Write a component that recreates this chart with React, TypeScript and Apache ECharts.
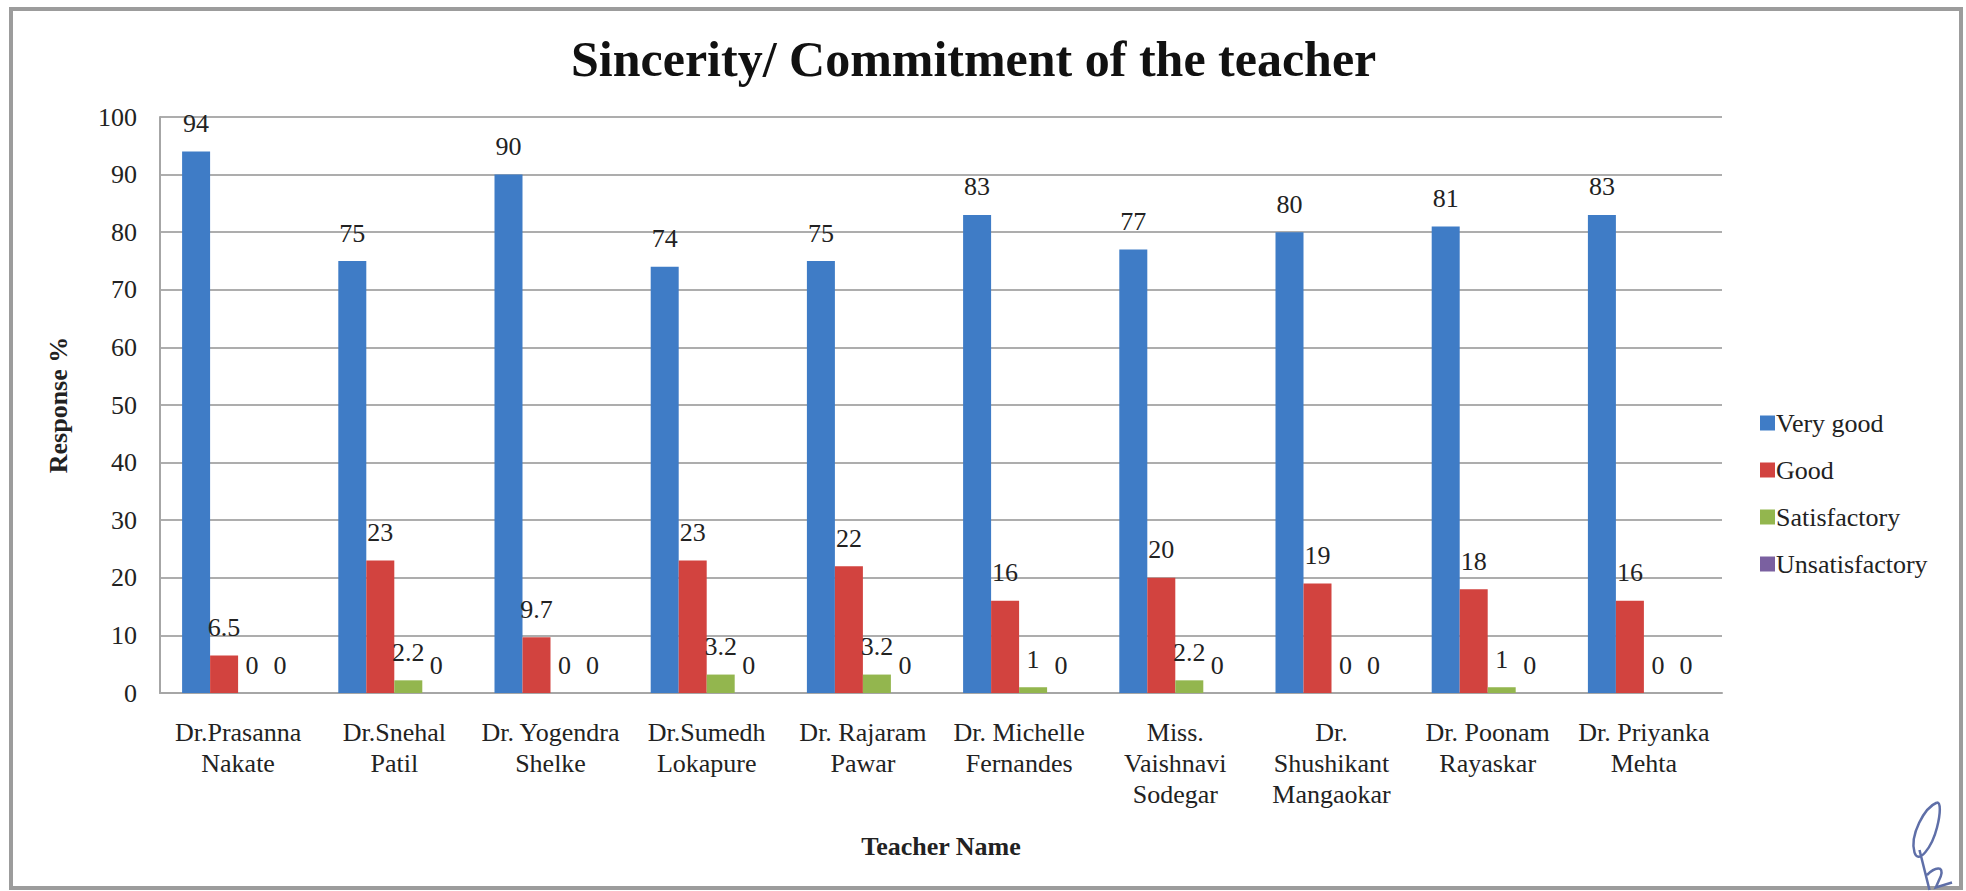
import React, { useEffect, useRef } from "react";
import * as echarts from "echarts";

const categories = [
  "Dr.Prasanna\nNakate",
  "Dr.Snehal\nPatil",
  "Dr. Yogendra\nShelke",
  "Dr.Sumedh\nLokapure",
  "Dr. Rajaram\nPawar",
  "Dr. Michelle\nFernandes",
  "Miss.\nVaishnavi\nSodegar",
  "Dr.\nShushikant\nMangaokar",
  "Dr. Poonam\nRayaskar",
  "Dr. Priyanka\nMehta",
];
const veryGood = [94, 75, 90, 74, 75, 83, 77, 80, 81, 83];
const good = [6.5, 23, 9.7, 23, 22, 16, 20, 19, 18, 16];
const satisfactory = [0, 2.2, 0, 3.2, 3.2, 1, 2.2, 0, 1, 0];
const unsatisfactory = [0, 0, 0, 0, 0, 0, 0, 0, 0, 0];
const seriesNames = ["Very good", "Good", "Satisfactory", "Unsatisfactory"];
const colors = ["#3F7CC6", "#D2433F", "#93B64E", "#7A60A0"];

const SERIF = "'Liberation Serif', 'Times New Roman', serif";

echarts.graphic.registerShape(
  "logo",
  echarts.graphic.extendPath(
    "M28 2 C18 6 6 28 10 42 C13 52 24 38 28 22 C31 10 31 2 28 2 M14 40 L22 72 M20 60 C26 54 34 52 31 61 L27 70 L40 66",
    {}
  )
);

export default function App() {
  const ref = useRef<HTMLDivElement>(null);
  useEffect(() => {
    if (!ref.current) return;
    const chart = echarts.init(ref.current, null, { renderer: "svg" });
    const data = [veryGood, good, satisfactory, unsatisfactory];
    chart.setOption({
      animation: false,
      backgroundColor: "#ffffff",
      color: colors,
      title: {
        text: "Sincerity/ Commitment of the teacher",
        left: 566,
        top: 29,
        textStyle: {
          fontFamily: SERIF,
          fontSize: 50,
          fontWeight: "bold",
          color: "#111",
        },
      },
      legend: {
        orient: "vertical",
        left: 1755,
        top: 405,
        itemWidth: 15,
        itemHeight: 15,
        itemGap: 21,
        icon: "rect",
        data: seriesNames,
        textStyle: {
          fontFamily: SERIF,
          fontSize: 26,
          lineHeight: 25,
          color: "#222",
          padding: [0, 0, 0, -4],
        },
      },
      grid: { left: 160, top: 117, width: 1562, height: 576 },
      xAxis: {
        type: "category",
        data: categories,
        name: "Teacher Name",
        nameLocation: "middle",
        nameGap: 140,
        nameTextStyle: {
          fontFamily: SERIF,
          fontSize: 26,
          fontWeight: "bold",
          color: "#222",
        },
        axisLine: { lineStyle: { color: "#a6a6a6", width: 2 } },
        axisTick: { show: false },
        axisLabel: {
          interval: 0,
          margin: 24,
          fontFamily: SERIF,
          fontSize: 26,
          lineHeight: 31,
          color: "#222",
        },
      },
      yAxis: {
        type: "value",
        min: 0,
        max: 100,
        interval: 10,
        name: "Response %",
        nameLocation: "middle",
        nameRotate: 90,
        nameGap: 89,
        nameTextStyle: {
          fontFamily: SERIF,
          fontSize: 26,
          fontWeight: "bold",
          color: "#222",
        },
        axisLine: { show: true, lineStyle: { color: "#a6a6a6", width: 2 } },
        axisTick: { show: false },
        splitLine: { lineStyle: { color: "#adadad", width: 2 } },
        axisLabel: {
          margin: 23,
          fontFamily: SERIF,
          fontSize: 26,
          color: "#222",
        },
      },
      series: seriesNames.map((n, i) => ({
        name: n,
        type: "bar",
        data: data[i],
        barWidth: 28,
        barGap: "0%",
        itemStyle: { color: colors[i] },
        label: {
          show: true,
          position: "top",
          distance: 15,
          fontFamily: SERIF,
          fontSize: 26,
          color: "#222",
        },
      })),
      graphic: [
        {
          type: "rect",
          shape: { x: 11, y: 9, width: 1950, height: 879 },
          style: { fill: "none", stroke: "#9c9c9c", lineWidth: 4 },
          silent: true,
        },
        {
          type: "logo",
          x: 1902,
          y: 800,
          scaleX: 1.25,
          scaleY: 1.25,
          style: { fill: "none", stroke: "#5f6fa8", lineWidth: 2 },
          silent: true,
        },
      ],
    });
    return () => chart.dispose();
  }, []);
  return (
    <div
      ref={ref}
      style={{ position: "fixed", left: 0, top: 0, width: 1966, height: 891 }}
    />
  );
}
